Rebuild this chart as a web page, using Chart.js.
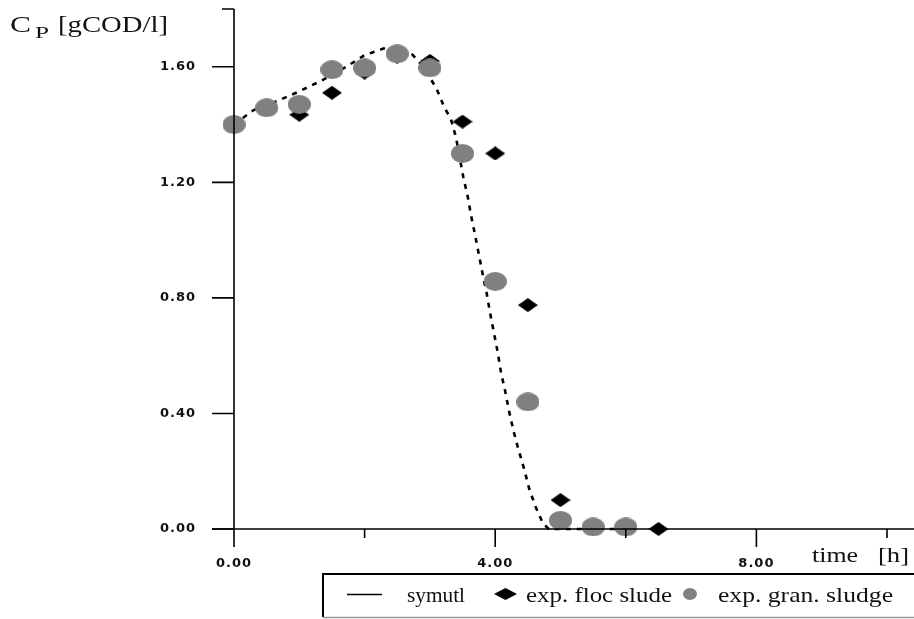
<!DOCTYPE html>
<html>
<head>
<meta charset="utf-8">
<script src="https://cdn.jsdelivr.net/npm/chart.js@4.4.1/dist/chart.umd.min.js"></script>
<style>
  html, body { margin: 0; padding: 0; background: #fff; }
  #wrap { width: 914px; height: 619px; }
</style>
</head>
<body>
<div id="wrap"><canvas id="chart" width="914" height="619"></canvas></div>
<script>
// ---- data ----
const timeModel = [0, 0.3, 0.7, 1.0, 1.35, 1.72, 2.0, 2.35, 2.72, 2.9, 3.1, 3.22, 3.32, 3.4, 3.51, 3.58, 3.63, 3.69, 3.75, 3.81, 3.87, 3.92, 3.98, 4.04, 4.09, 4.15, 4.21, 4.28, 4.35, 4.44, 4.52, 4.62, 4.73, 4.82, 6.0];
const symutl    = [1.40, 1.45, 1.485, 1.515, 1.553, 1.60, 1.64, 1.668, 1.645, 1.60, 1.525, 1.46, 1.42, 1.355, 1.22, 1.15, 1.085, 1.02, 0.95, 0.88, 0.815, 0.75, 0.68, 0.61, 0.54, 0.48, 0.41, 0.34, 0.28, 0.21, 0.14, 0.076, 0.02, 0, 0];

const timeFloc   = [0, 0.5, 1, 1.5, 2, 2.5, 3, 3.5, 4, 4.5, 5, 5.5, 6, 6.5];
const flocSludge = [1.40, 1.46, 1.434, 1.51, 1.58, 1.635, 1.62, 1.41, 1.30, 0.775, 0.10, 0.0, 0.0, 0.0];

const timeGran   = [0, 0.5, 1, 1.5, 2, 2.5, 3, 3.5, 4, 4.5, 5, 5.5, 6];
const granSludge = [1.40, 1.458, 1.47, 1.59, 1.596, 1.645, 1.596, 1.30, 0.857, 0.44, 0.03, 0.007, 0.007];

const xTicks = [0, 2, 4, 6, 8, 10];
const yTicks = [0, 0.4, 0.8, 1.2, 1.6];
const legendLabels = ["symutl", "exp. floc slude", "exp. gran. sludge"];

// ---- marker images ----
const GRAY = "#808080";
const SERIF = "'Liberation Serif', 'Times New Roman', serif";

const makeDiamond = (w, h, color) => {
  const c = document.createElement("canvas");
  c.width = w; c.height = h;
  const g = c.getContext("2d");
  g.fillStyle = color;
  g.beginPath();
  g.moveTo(w / 2, 0); g.lineTo(w, h / 2); g.lineTo(w / 2, h); g.lineTo(0, h / 2);
  g.closePath(); g.fill();
  return c;
};
const makeEllipse = (w, h, color) => {
  const c = document.createElement("canvas");
  c.width = w; c.height = h;
  const g = c.getContext("2d");
  g.fillStyle = color;
  g.beginPath();
  g.ellipse(w / 2, h / 2, w / 2, h / 2, 0, 0, Math.PI * 2);
  g.fill();
  return c;
};
const diamondImg = makeDiamond(20, 14, "#000");
const circleImg = makeEllipse(23, 19, GRAY);

const toPoints = (xs, ys) => xs.map((x, i) => ({ x, y: ys[i] }));

// text squeezed/stretched to the width it has in the picture (wide serif face)
const fitText = (ctx, text, x, y, size, width) => {
  ctx.font = `${size}px ${SERIF}`;
  const w = ctx.measureText(text).width;
  ctx.save();
  ctx.translate(x, y);
  ctx.scale(width / w, 1);
  ctx.fillText(text, 0, 0);
  ctx.restore();
};

// ---- axes, titles and legend drawn on top ----
const decorations = {
  id: "decorations",
  beforeDraw(chart) {
    chart.ctx.letterSpacing = "1px";
  },
  afterDraw(chart) {
    const { ctx, scales: { x, y } } = chart;
    ctx.save();
    ctx.letterSpacing = "0px";
    ctx.strokeStyle = "#000";
    ctx.lineWidth = 1.6;

    // axis lines
    const y0 = y.getPixelForValue(0);
    const x0 = x.getPixelForValue(0);
    const top = y.getPixelForValue(1.8);
    ctx.beginPath();
    ctx.moveTo(212, y0); ctx.lineTo(914, y0);
    ctx.moveTo(x0, top); ctx.lineTo(x0, y0);
    ctx.stroke();

    // y ticks + top cap
    ctx.beginPath();
    yTicks.forEach(v => {
      const py = y.getPixelForValue(v);
      ctx.moveTo(x0 - 22, py); ctx.lineTo(x0, py);
    });
    ctx.moveTo(x0 - 12, top); ctx.lineTo(x0, top);
    // x ticks (major labelled, minor short)
    xTicks.forEach(v => {
      const px = x.getPixelForValue(v);
      const len = (v % 4 === 0 && v < 10) ? 18 : 9;
      ctx.moveTo(px, y0); ctx.lineTo(px, y0 + len);
    });
    ctx.stroke();

    // y title with subscript
    ctx.fillStyle = "#111";
    ctx.textBaseline = "alphabetic";
    ctx.textAlign = "left";
    fitText(ctx, "C", 10, 32, 24, 21);
    fitText(ctx, "P", 35, 38, 17, 14);
    fitText(ctx, "[gCOD/l]", 58, 32, 24, 110);

    // x title
    fitText(ctx, "time", 812, 562, 22, 46);
    fitText(ctx, "[h]", 878, 562, 22, 31);

    // legend box
    ctx.lineWidth = 2;
    ctx.beginPath();
    ctx.moveTo(323, 617); ctx.lineTo(323, 574); ctx.lineTo(914, 574);
    ctx.stroke();
    ctx.strokeStyle = "#999";
    ctx.lineWidth = 1.5;
    ctx.beginPath();
    ctx.moveTo(323, 617.5); ctx.lineTo(914, 617.5);
    ctx.stroke();

    ctx.strokeStyle = "#000";
    ctx.lineWidth = 1.3;
    ctx.beginPath();
    ctx.moveTo(347, 594.5); ctx.lineTo(382, 594.5);
    ctx.stroke();
    fitText(ctx, legendLabels[0], 407, 602, 22, 58);
    ctx.drawImage(makeDiamond(23, 12, "#000"), 494, 588);
    fitText(ctx, legendLabels[1], 526, 602, 22, 146);
    ctx.drawImage(makeEllipse(14, 12, GRAY), 683, 588);
    fitText(ctx, legendLabels[2], 718, 602, 22, 175);
    ctx.restore();
  }
};

const tickFont = { family: "DejaVu Sans", size: 13, weight: "bold" };

new Chart(document.getElementById("chart"), {
  type: "scatter",
  data: {
    datasets: [
      {
        label: legendLabels[0],
        data: toPoints(timeModel, symutl),
        showLine: true,
        borderColor: "#000",
        borderWidth: 2.6,
        borderDash: [5, 6],
        pointRadius: 0,
        tension: 0,
        clip: false,
        order: 3
      },
      {
        label: legendLabels[1],
        data: toPoints(timeFloc, flocSludge),
        pointStyle: diamondImg,
        clip: false,
        order: 2
      },
      {
        label: legendLabels[2],
        data: toPoints(timeGran, granSludge),
        pointStyle: circleImg,
        clip: false,
        order: 1
      }
    ]
  },
  options: {
    responsive: false,
    animation: false,
    layout: { padding: { left: 0, right: 27, top: 9, bottom: 0 } },
    plugins: { legend: { display: false }, tooltip: { enabled: false } },
    scales: {
      x: {
        type: "linear",
        min: 0,
        max: 10,
        afterFit: s => { s.height = 90; s.paddingLeft = 0; s.paddingRight = 0; },
        afterBuildTicks: s => { s.ticks = xTicks.map(value => ({ value })); },
        grid: { display: true, drawOnChartArea: false, drawTicks: false },
        border: { display: false },
        ticks: {
          padding: 27,
          maxRotation: 0,
          autoSkip: false,
          color: "#111",
          font: tickFont,
          callback: v => (v % 4 === 0 && v < 10) ? v.toFixed(2) : ""
        }
      },
      y: {
        min: 0,
        max: 1.8,
        afterFit: s => { s.width = 234; s.paddingTop = 0; s.paddingBottom = 0; },
        afterBuildTicks: s => { s.ticks = yTicks.map(value => ({ value })); },
        grid: { display: true, drawOnChartArea: false, drawTicks: false },
        border: { display: false },
        ticks: {
          padding: 38,
          autoSkip: false,
          color: "#111",
          font: tickFont,
          callback: v => v.toFixed(2)
        }
      }
    }
  },
  plugins: [decorations]
});
</script>
</body>
</html>
